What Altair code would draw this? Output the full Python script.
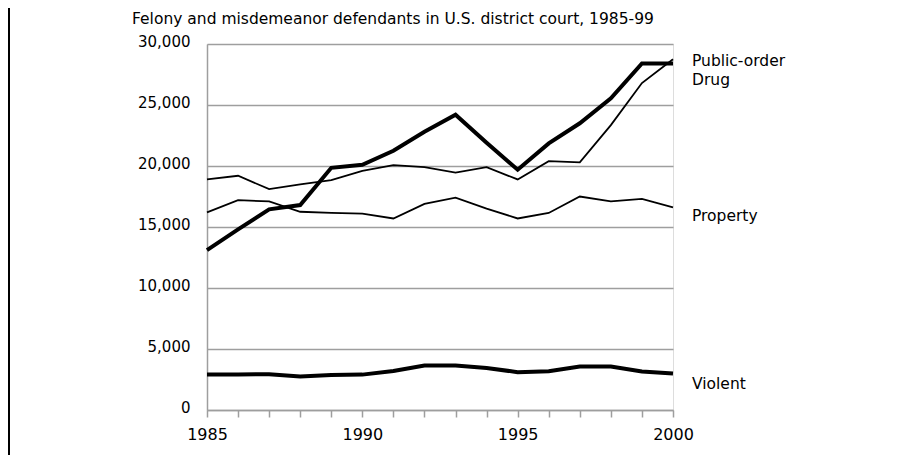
import altair as alt
import pandas as pd

# ---- data ----
years = list(range(1985, 2001))
drug = [13100, 14800, 16450, 16800, 19850, 20100, 21250, 22800, 24200, 21900,
        19700, 21850, 23500, 25550, 28400, 28400]
public_order = [18900, 19200, 18100, 18500, 18850, 19600, 20070, 19900, 19450, 19900,
                18900, 20400, 20300, 23350, 26800, 28750]
property_ = [16200, 17200, 17100, 16250, 16150, 16100, 15700, 16900, 17400, 16500,
             15700, 16150, 17500, 17100, 17300, 16600]
violent = [2900, 2900, 2940, 2750, 2860, 2900, 3200, 3650, 3650, 3450,
           3100, 3180, 3570, 3570, 3160, 3000]

series_names = ["Drug", "Public-order", "Property", "Violent"]
thick_series = ["Drug", "Violent"]
thin_series = ["Public-order", "Property"]

label_texts = ["Public-order", "Drug", "Property", "Violent"]
label_values = [28600, 27050, 15900, 2100]

y_ticks = [0, 5000, 10000, 15000, 20000, 25000, 30000]
x_ticks = years
title_text = "Felony and misdemeanor defendants in U.S. district court, 1985-99"

# ---- tables ----
rows = []
for name, vals in zip(series_names, [drug, public_order, property_, violent]):
    for yr, v in zip(years, vals):
        rows.append({"year": yr, "value": v, "series": name})
df = pd.DataFrame(rows)
labels_df = pd.DataFrame({"text": label_texts, "value": label_values,
                          "year": [years[-1]] * len(label_texts)})
one = pd.DataFrame({"k": [0]})

FONT = "DejaVu Sans"
GRAY = "#9e9e9e"

x_scale = alt.Scale(domain=[1985, 2000], nice=False, zero=False)
y_scale = alt.Scale(domain=[0, 30000], nice=False, zero=True)

x_axis = alt.Axis(values=x_ticks, format="d",
                  labelExpr="datum.value % 5 == 0 ? datum.label : ''",
                  title=None, grid=False, ticks=True, tickSize=7,
                  tickColor=GRAY, tickWidth=1.5, domain=True,
                  domainColor=GRAY, domainWidth=1.5,
                  labelFont=FONT, labelFontSize=16, labelColor="#000",
                  labelPadding=9, labelFlush=False, labelOverlap=False,
                  labelBound=False)
y_axis = alt.Axis(values=y_ticks, format=",d", title=None,
                  grid=True, gridColor=GRAY, gridWidth=1.5,
                  ticks=False, tickSize=0, domain=True,
                  domainColor=GRAY, domainWidth=1.5,
                  labelFont=FONT, labelFontSize=15, labelColor="#000",
                  labelPadding=17, labelBaseline="alphabetic",
                  labelOffset=2, labelFlush=False, labelOverlap=False)


def xe():
    return alt.X("year:Q", scale=x_scale, axis=x_axis)


def ye():
    return alt.Y("value:Q", scale=y_scale, axis=y_axis)


base = alt.Chart(df)
thick = base.transform_filter(
    alt.FieldOneOfPredicate(field="series", oneOf=thick_series)
).mark_line(color="#000", strokeWidth=4).encode(x=xe(), y=ye(), detail="series:N")
thin = base.transform_filter(
    alt.FieldOneOfPredicate(field="series", oneOf=thin_series)
).mark_line(color="#000", strokeWidth=1.8).encode(x=xe(), y=ye(), detail="series:N")

labels = alt.Chart(labels_df).mark_text(
    align="left", baseline="middle", dx=19, font=FONT, fontSize=15.5, color="#000"
).encode(x=xe(), y=ye(), text="text:N")

title = alt.Chart(one).mark_text(
    text=title_text, align="left", baseline="alphabetic", font=FONT,
    fontSize=15.5, color="#000"
).encode(x=alt.value(-75), y=alt.value(-20))

border = alt.Chart(one).mark_rule(color="#000", strokeWidth=2).encode(
    x=alt.value(-198), y=alt.value(-36), y2=alt.value(411))

chart = alt.layer(thick, thin, labels, title, border).properties(
    width=466, height=366,
    autosize=alt.AutoSizeParams(type="none"),
    padding={"left": 199, "top": 36, "right": 243, "bottom": 45},
).configure_view(stroke=GRAY, strokeWidth=1.5).configure_axis(
    labelOverlap=False
).configure(background="white")

chart.save("out.html", embed_options={"renderer": "svg", "actions": False})
